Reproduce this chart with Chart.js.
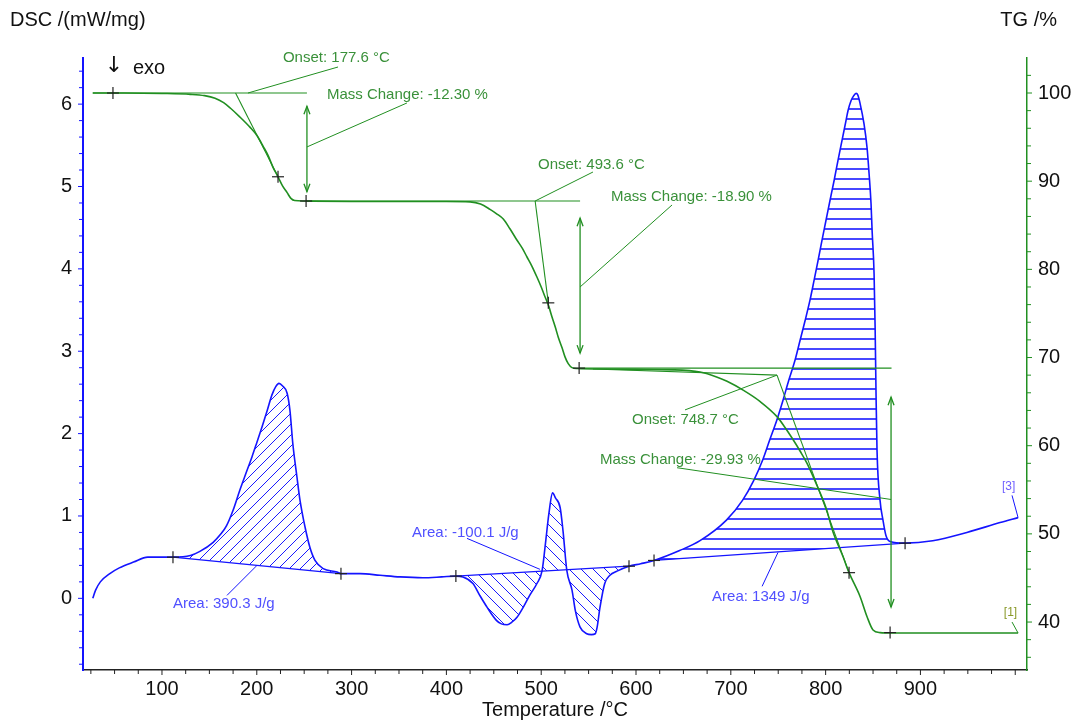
<!DOCTYPE html>
<html>
<head>
<meta charset="utf-8">
<script src="https://cdn.jsdelivr.net/npm/chart.js@4.4.1/dist/chart.umd.min.js"></script>
<style>
html, body { margin: 0; padding: 0; background: #fff; }
#chart { display: block; }
</style>
</head>
<body>
<canvas id="chart" width="1075" height="723"></canvas>
<script>
// DSC curve: [temperature °C, mW/mg]
const dscCurve = [
    [27, 0.0], [30, 0.1], [35, 0.2], [45, 0.3], [55, 0.37], [70, 0.44], [85, 0.5],
    [111.6, 0.5], [130, 0.52], [140, 0.57], [154, 0.68], [162, 0.78], [168, 0.88], [175, 1.07],
    [182, 1.31], [188, 1.5], [195, 1.72], [200, 1.89], [205.5, 2.08], [211, 2.28],
    [216, 2.47], [220, 2.57], [223.4, 2.61], [227, 2.58], [232, 2.49], [235, 2.28],
    [238, 1.88], [242.4, 1.47], [245.6, 1.19], [251, 0.86], [256, 0.62], [261.4, 0.46],
    [270, 0.36], [284.6, 0.32], [288.8, 0.30], [309, 0.30], [330, 0.28], [351, 0.26],
    [375, 0.25], [395, 0.26], [410, 0.27], [417.5, 0.26], [428, 0.18], [435, 0.04],
    [443, -0.11], [453, -0.27], [458, -0.31], [464, -0.32], [469, -0.29], [474.5, -0.23],
    [481, -0.11], [488, 0.04], [495.5, 0.18], [501, 0.34], [505, 0.72], [508, 1.02],
    [512, 1.28], [515, 1.22], [520, 1.1], [523, 0.82], [527, 0.34], [532.5, 0.1],
    [536, -0.15], [541, -0.35], [548, -0.43], [553, -0.44], [557, -0.43], [559, -0.35],
    [562, -0.11], [567, 0.18], [572.5, 0.28], [580, 0.33], [592.6, 0.39], [605, 0.42],
    [619, 0.46], [646, 0.58], [667.5, 0.70], [695.4, 0.95], [712.3, 1.19], [724.1, 1.43],
    [733.6, 1.68], [740.9, 1.92], [748.4, 2.16], [754.9, 2.40], [761.2, 2.65], [767.7, 2.89],
    [773, 3.13], [778.3, 3.37], [783.5, 3.62], [787.8, 3.86], [792, 4.10], [796.2, 4.35],
    [800.4, 4.59], [804.6, 4.83], [808.9, 5.07], [813.1, 5.32], [817.3, 5.56], [821.5, 5.80],
    [823.6, 5.92], [826.8, 6.04], [829.5, 6.10], [832.1, 6.13], [834, 6.11], [836.3, 6.01],
    [840.5, 5.76], [843.7, 5.47], [845.8, 5.16], [847.9, 4.79], [849, 4.47], [851.1, 3.94],
    [852.2, 3.29], [853.2, 2.46], [854.2, 1.8], [857.4, 1.19], [860.5, 0.95], [863.7, 0.76],
    [868, 0.69], [883.8, 0.67], [913, 0.7], [949, 0.8], [984, 0.92], [1003, 0.98]
];

// TG curve: [temperature °C, mass %]
const tgCurve = [
    [27, 100], [60, 100], [100, 99.95], [130, 99.85], [145, 99.7], [156, 99.4], [165, 98.9],
    [172, 98.3], [182, 97.3], [193, 96.1], [200, 95.2], [207, 93.9], [212, 92.9], [217, 91.6],
    [222.4, 90.5], [227, 89.5], [232, 88.7], [236, 88.05], [240, 87.8], [250, 87.75],
    [300, 87.7], [350, 87.7], [400, 87.7], [425, 87.65], [436, 87.4], [446, 86.8], [453, 86.3],
    [460, 85.7], [467, 84.6], [474.5, 83.3], [480, 82.4], [485, 81.4], [490, 80.4],
    [495.6, 79.1], [500, 78.0], [504, 76.9], [508, 75.8], [511.4, 74.6], [515, 73.4],
    [518, 72.3], [522, 71.1], [525, 70.1], [528.5, 69.3], [532.5, 68.85], [538, 68.75],
    [560, 68.7], [600, 68.65], [640, 68.6], [667.5, 68.35], [685, 67.8], [696, 67.3],
    [713, 66.3], [731, 65.0], [748.7, 63.3], [757, 62.1], [765.6, 60.7], [773, 59.4],
    [780.4, 58.0], [792, 55.2], [800.4, 52.95], [807.8, 50.2], [818.4, 47.4], [824.7, 45.6],
    [836.3, 42.9], [843.7, 40.6], [850, 39.1], [857.4, 38.8], [870, 38.75], [1003, 38.75]
];

// peak integration limits and their baselines: [tStart, dscStart, tEnd, dscEnd]
const peakBases = [
    [111.6, 0.50, 288.8, 0.30],
    [410, 0.27, 592.6, 0.39],
    [619, 0.46, 883.8, 0.67]
];

const tgMarks = [[48.3, 100], [222.4, 90.5], [252, 87.75], [507.5, 76.2], [540, 68.8], [824.7, 45.6], [868, 38.8]];

const tempTicks = [100, 200, 300, 400, 500, 600, 700, 800, 900];
const dscTicks = [0, 1, 2, 3, 4, 5, 6];
const tgTicks = [40, 50, 60, 70, 80, 90, 100];

// evaluation texts (data coordinates)
const tgNotes = [
    { text: 'Onset: 177.6 °C', at: [227.6, 103.97], lead: [[190.7, 100], [285.7, 102.95]] },
    { text: 'Mass Change: -12.30 %', at: [274, 99.77], lead: [[252.9, 93.88], [358.4, 98.87]] },
    { text: 'Onset: 493.6 °C', at: [496.6, 91.84], lead: [[493.6, 87.75], [554.6, 91.04]] },
    { text: 'Mass Change: -18.90 %', at: [573.6, 88.2], lead: [[541, 78.0], [638, 87.3]] },
    { text: 'Onset: 748.7 °C', at: [595.8, 62.93], lead: [[748.7, 68.0], [651.7, 64.06]] },
    { text: 'Mass Change: -29.93 %', at: [562, 58.4], lead: [[869, 53.9], [643.3, 57.5]] }
];
const tgLines = [
    [[27, 100], [252.9, 100]],
    [[177.6, 100], [222.4, 90.5]],
    [[252, 87.75], [541, 87.75]],
    [[493.6, 87.75], [507.5, 76.2]],
    [[540, 68.8], [869.5, 68.8]],
    [[554.6, 68.7], [748.7, 68.0]],
    [[748.7, 68.0], [824.7, 45.6]]
];
const tgArrows = [[252.9, 98.5, 88.8], [541, 85.8, 70.5], [869, 65.5, 41.7]];

const dscNotes = [
    { text: 'Area: 390.3 J/g', at: [111.6, -0.073], lead: [[168.6, 0.036], [200.2, 0.40]] },
    { text: 'Area: -100.1 J/g', at: [363.7, 0.80], lead: [[421.7, 0.728], [498.7, 0.352]] },
    { text: 'Area: 1349 J/g', at: [680.2, 0.024], lead: [[733, 0.146], [749.8, 0.558]] }
];

const blue = '#1414ff';
const green = '#218f21';
const noteGreen = '#3a913a';
const noteBlue = '#5050ff';
const font = '"Liberation Sans", Arial, sans-serif';

const canvas = document.getElementById('chart');

function hatch(kind, step, width) {
    const c = document.createElement('canvas');
    c.width = step;
    c.height = step;
    const g = c.getContext('2d');
    g.lineWidth = width;
    g.strokeStyle = '#1a1aff';
    g.beginPath();
    if (kind === 'h') {
        g.moveTo(0, step - 1);
        g.lineTo(step, step - 1);
    } else if (kind === 'up') {
        g.moveTo(-2, step + 2); g.lineTo(step + 2, -2);
        g.moveTo(-2, 2); g.lineTo(2, -2);
        g.moveTo(step - 2, step + 2); g.lineTo(step + 2, step - 2);
    } else {
        g.moveTo(-2, -2); g.lineTo(step + 2, step + 2);
        g.moveTo(step - 2, -2); g.lineTo(step + 2, 2);
        g.moveTo(-2, step - 2); g.lineTo(2, step + 2);
    }
    g.stroke();
    return g.createPattern(c, 'repeat');
}

const patterns = [hatch('up', 11, 1), hatch('down', 12, 1), hatch('h', 10, 1.6)];

const toXY = arr => arr.map(p => ({ x: p[0], y: p[1] }));

const datasets = [
    {
        data: toXY(tgCurve), yAxisID: 'y2', borderColor: green, borderWidth: 1.6,
        pointRadius: 0, cubicInterpolationMode: 'monotone', fill: false
    },
    {
        data: toXY(dscCurve), yAxisID: 'y', borderColor: blue, borderWidth: 1.6,
        pointRadius: 0, cubicInterpolationMode: 'monotone', fill: false
    }
];

peakBases.forEach((b, i) => {
    datasets.push({
        data: toXY(dscCurve.filter(p => p[0] >= b[0] && p[0] <= b[2])),
        yAxisID: 'y', borderColor: 'rgba(0,0,0,0)', borderWidth: 1, pointRadius: 0,
        cubicInterpolationMode: 'monotone',
        fill: { target: '+1', above: patterns[i], below: patterns[i] },
        backgroundColor: patterns[i]
    });
    datasets.push({
        data: toXY([[b[0], b[1]], [b[2], b[3]]]),
        yAxisID: 'y', borderColor: blue, borderWidth: 1.2, pointRadius: 0, fill: false
    });
});

function drawLine(ctx, pts, color, w) {
    ctx.save();
    ctx.strokeStyle = color;
    ctx.lineWidth = w;
    ctx.beginPath();
    pts.forEach((p, i) => i ? ctx.lineTo(p[0], p[1]) : ctx.moveTo(p[0], p[1]));
    ctx.stroke();
    ctx.restore();
}

function drawPlus(ctx, p) {
    drawLine(ctx, [[p[0] - 6, p[1]], [p[0] + 6, p[1]]], '#222', 1.2);
    drawLine(ctx, [[p[0], p[1] - 6], [p[0], p[1] + 6]], '#222', 1.2);
}

function drawText(ctx, text, p, color, size) {
    ctx.save();
    ctx.fillStyle = color;
    ctx.font = size + 'px ' + font;
    ctx.textAlign = 'left';
    ctx.textBaseline = 'middle';
    ctx.fillText(text, p[0], p[1]);
    ctx.restore();
}

const deco = {
    id: 'deco',
    afterDatasetsDraw(chart) {
        const { ctx, scales: { x, y, y2 } } = chart;
        const pg = p => [x.getPixelForValue(p[0]), y2.getPixelForValue(p[1])];
        const pb = p => [x.getPixelForValue(p[0]), y.getPixelForValue(p[1])];

        tgLines.forEach(l => drawLine(ctx, l.map(pg), green, 1.1));

        tgArrows.forEach(a => {
            const top = pg([a[0], a[1]]);
            const bot = pg([a[0], a[2]]);
            drawLine(ctx, [top, bot], green, 1.3);
            drawLine(ctx, [[top[0] - 3, top[1] + 8], top, [top[0] + 3, top[1] + 8]], green, 1.3);
            drawLine(ctx, [[bot[0] - 3, bot[1] - 8], bot, [bot[0] + 3, bot[1] - 8]], green, 1.3);
        });

        tgNotes.forEach(n => {
            drawLine(ctx, n.lead.map(pg), green, 1);
            drawText(ctx, n.text, pg(n.at), noteGreen, 15);
        });

        dscNotes.forEach(n => {
            drawLine(ctx, n.lead.map(pb), blue, 1);
            drawText(ctx, n.text, pb(n.at), noteBlue, 15);
        });

        // curve end tags
        drawLine(ctx, [pb([996.6, 1.25]), pb([1003, 0.98])], blue, 1);
        drawText(ctx, '[3]', pb([986, 1.35]), '#7060ff', 12);
        drawLine(ctx, [pg([996.6, 40.0]), pg([1003, 38.75])], green, 1);
        drawText(ctx, '[1]', pg([988, 41.04]), '#8a9a2a', 12);

        peakBases.forEach(b => {
            drawPlus(ctx, pb([b[0], b[1]]));
            drawPlus(ctx, pb([b[2], b[3]]));
        });
        tgMarks.forEach(m => drawPlus(ctx, pg(m)));
    },
    afterDraw(chart) {
        const { ctx, chartArea: a, scales: { x, y, y2 } } = chart;

        for (let v = 25; v <= 1000; v += 25) {
            const px = x.getPixelForValue(v);
            drawLine(ctx, [[px, a.bottom], [px, a.bottom + (v % 100 === 0 ? 5 : 4)]], '#222', 1);
        }
        for (let i = -4; i <= 32; i++) {
            const py = y.getPixelForValue(i * 0.2);
            drawLine(ctx, [[a.left, py], [a.left - (i % 5 === 0 ? 5 : 4), py]], blue, 1);
        }
        for (let v = 36; v <= 102; v += 2) {
            const py = y2.getPixelForValue(v);
            drawLine(ctx, [[a.right, py], [a.right + (v % 10 === 0 ? 5 : 4), py]], green, 1);
        }

        ctx.save();
        ctx.fillStyle = '#111';
        ctx.font = '20px ' + font;
        ctx.textBaseline = 'middle';
        ctx.textAlign = 'left';
        ctx.fillText('DSC /(mW/mg)', 10, 20);
        ctx.fillText('exo', a.left + 50, a.top + 10);
        ctx.textAlign = 'right';
        ctx.fillText('TG /%', 1057, 20);
        ctx.textAlign = 'center';
        ctx.fillText('Temperature /°C', (a.left + a.right) / 2, 710);
        ctx.font = '22px "DejaVu Sans", sans-serif';
        ctx.fillText('↓', a.left + 31, a.top + 8);
        ctx.restore();
    }
};

const tickFont = { family: font, size: 20 };

new Chart(canvas, {
    type: 'line',
    data: { datasets: datasets },
    options: {
        responsive: false,
        animation: false,
        events: [],
        devicePixelRatio: 1,
        layout: { padding: { top: 58, left: 0, right: 0, bottom: 0 } },
        plugins: { legend: { display: false }, tooltip: { enabled: false } },
        scales: {
            x: {
                type: 'linear', min: 16.7, max: 1012.4,
                afterFit: s => { s.height = 53; },
                afterBuildTicks: s => { s.ticks = tempTicks.map(v => ({ value: v })); },
                grid: { display: false, drawTicks: false },
                border: { display: true, color: '#222', width: 1.5 },
                ticks: { font: tickFont, color: '#111', padding: 7, maxRotation: 0, autoSkip: false, callback: v => String(v) }
            },
            y: {
                type: 'linear', position: 'left', min: -0.87, max: 6.56,
                afterFit: s => { s.width = 83; },
                afterBuildTicks: s => { s.ticks = dscTicks.map(v => ({ value: v })); },
                grid: { display: false, drawTicks: false },
                border: { display: true, color: blue, width: 2 },
                ticks: { font: tickFont, color: '#111', padding: 11, callback: v => String(v) }
            },
            y2: {
                type: 'linear', position: 'right', min: 34.56, max: 103.97,
                afterFit: s => { s.width = 48; },
                afterBuildTicks: s => { s.ticks = tgTicks.map(v => ({ value: v })); },
                grid: { display: false, drawTicks: false },
                border: { display: true, color: green, width: 1.5 },
                ticks: { font: tickFont, color: '#111', padding: 11, callback: v => String(v) }
            }
        }
    },
    plugins: [deco]
});
</script>
</body>
</html>
